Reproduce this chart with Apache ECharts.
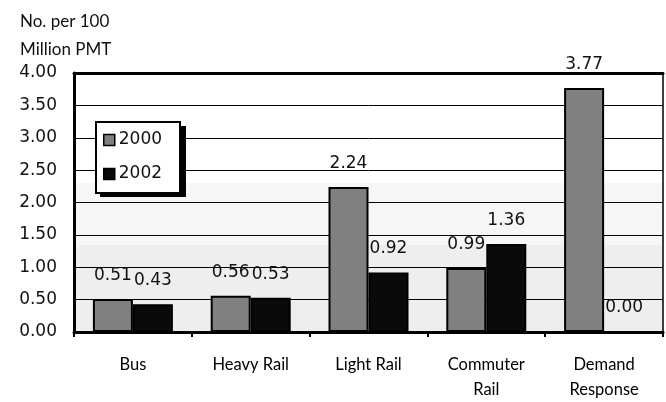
<!DOCTYPE html>
<html lang="en">
<head>
	<meta charset="UTF-8">
	<title>Fatalities per 100 Million PMT</title>
	<script src="https://cdn.jsdelivr.net/npm/echarts@6/dist/echarts.min.js"></script>
	<style>
		html, body { margin: 0; padding: 0; background: #fff; }
	</style>
</head>
<body>
	<div id="chart" style="width:666px; height:402px;"></div>
	<script>
	// data
	var modes = ['Bus', 'Heavy Rail', 'Light Rail', 'Commuter\nRail', 'Demand\nResponse'];
	var years = ['2000', '2002'];
	var values2000 = [0.51, 0.56, 2.24, 0.99, 3.77];
	var values2002 = [0.43, 0.53, 0.92, 1.36, 0.00];
	var yTicks = { min: 0, max: 4, interval: 0.5 };

	var textFont = 'Lato, "Noto Sans", sans-serif';
	var numFont = '"DejaVu Sans", sans-serif';
	var myChart = echarts.init(document.getElementById('chart'));

	var labelStyle = {
		show: true,
		position: 'top',
		distance: 15,
		color: '#111',
		fontSize: 17,
		fontFamily: numFont,
		formatter: function (p) { return p.value.toFixed(2); }
	};

	option = {
		animation: false,
		textStyle: { fontFamily: textFont },
		title: {
			text: 'No. per 100\nMillion PMT',
			left: 15,
			top: 3,
			textStyle: { fontSize: 17, fontWeight: 'normal', color: '#111', lineHeight: 28, fontFamily: textFont }
		},
		// legend box shadow (solid black, offset down-right)
		graphic: [{
			type: 'rect',
			left: 100,
			top: 126,
			z: 5,
			shape: { width: 86, height: 71 },
			style: { fill: '#000' }
		}],
		legend: {
			data: years,
			orient: 'vertical',
			left: 96,
			top: 122,
			z: 10,
			padding: [8, 18, 9, 7],
			itemGap: 14,
			itemWidth: 11,
			itemHeight: 11,
			icon: 'rect',
			itemStyle: { borderColor: '#000', borderWidth: 1.5 },
			backgroundColor: '#fff',
			borderColor: '#000',
			borderWidth: 2,
			borderRadius: 0,
			textStyle: { fontSize: 17, color: '#111', fontFamily: numFont, padding: [0, 0, 0, -1], lineHeight: 20 }
		},
		grid: {
			left: 74,
			right: 3,
			top: 73,
			bottom: 66,
			show: true,
			borderColor: '#000',
			borderWidth: 1.5,
			backgroundColor: {
				type: 'linear', x: 0, y: 0, x2: 0, y2: 1,
				colorStops: [
					{ offset: 0, color: '#ffffff' },
					{ offset: 0.426, color: '#ffffff' },
					{ offset: 0.426, color: '#f6f6f6' },
					{ offset: 0.662, color: '#f6f6f6' },
					{ offset: 0.662, color: '#eeeeee' },
					{ offset: 1, color: '#eeeeee' }
				]
			}
		},
		xAxis: [
			{
				type: 'category',
				data: modes,
				axisLine: { lineStyle: { color: '#000', width: 3 } },
				axisTick: { show: true, length: 5, lineStyle: { color: '#000', width: 2 } },
				axisLabel: { color: '#000', fontSize: 16.5, margin: 20, lineHeight: 25, fontFamily: textFont, interval: 0 }
			},
			{
				type: 'category',
				position: 'top',
				data: modes,
				axisLine: { show: true, lineStyle: { color: '#000', width: 3 } },
				axisTick: { show: false },
				axisLabel: { show: false }
			}
		],
		yAxis: {
			type: 'value',
			min: yTicks.min,
			max: yTicks.max,
			interval: yTicks.interval,
			axisLine: { show: true, lineStyle: { color: '#000', width: 3 } },
			axisTick: { show: false },
			axisLabel: {
				color: '#111',
				fontSize: 17,
				margin: 17,
				fontFamily: numFont,
				formatter: function (v) { return v.toFixed(2); }
			},
			splitLine: { lineStyle: { color: '#000', width: 1 } }
		},
		series: [
			{
				name: years[0],
				type: 'bar',
				data: values2000,
				barWidth: 40,
				barGap: '0%',
				itemStyle: { color: '#808080', borderColor: '#000', borderWidth: 2 },
				label: labelStyle
			},
			{
				name: years[1],
				type: 'bar',
				data: values2002,
				barWidth: 40,
				itemStyle: { color: '#0a0a0a', borderColor: '#000', borderWidth: 2 },
				label: labelStyle
			}
		]
	};

	myChart.setOption(option);
	</script>
</body>
</html>
